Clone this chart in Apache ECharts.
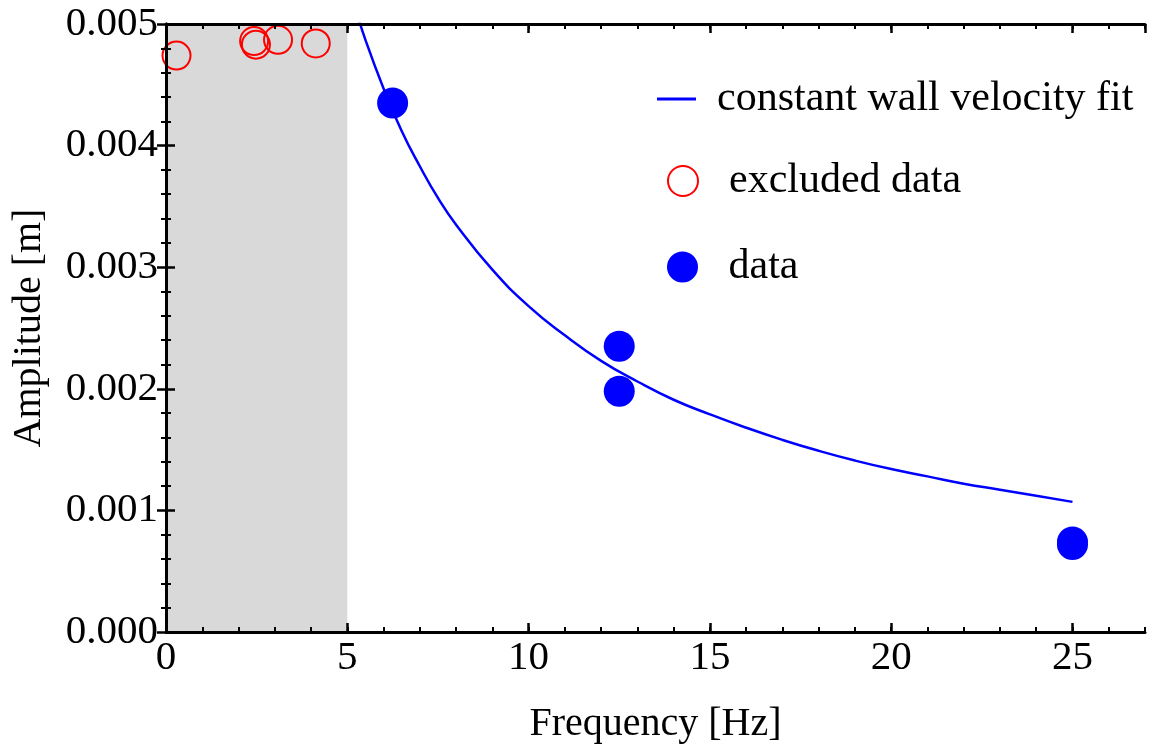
<!DOCTYPE html>
<html>
<head>
<meta charset="utf-8">
<script src="https://cdn.jsdelivr.net/npm/echarts@6/dist/echarts.min.js"></script>
<style>
  html, body { margin: 0; padding: 0; background: #fff; }
  #main { width: 1150px; height: 755px; }
</style>
</head>
<body>
<div id="main"></div>
<script>
// values
const dataFreq = [6.25, 12.5, 12.5, 25.0, 25.0];
const dataAmp = [0.00435, 0.00235, 0.00198, 0.00074, 0.00072];

const excludedFreq = [0.29, 2.43, 2.48, 3.09, 4.13];
const excludedAmp = [0.00474, 0.00486, 0.00483, 0.00487, 0.00484];

const fitFreq = [5.2, 5.5, 6, 6.5, 7, 7.5, 8, 9, 10, 11, 12, 13, 14, 15, 16, 17, 18, 19, 20, 21, 22, 23, 24, 25];
const fitAmp = [0.00515, 0.00487, 0.00447, 0.00412, 0.00383, 0.00357, 0.00335, 0.00298, 0.00268, 0.00244,
  0.00223, 0.00206, 0.00191, 0.00179, 0.00168, 0.00158, 0.00149, 0.00141, 0.00134, 0.00128,
  0.00122, 0.00117, 0.00112, 0.00107];

const excludedRange = [0, 5];

const font = 'Liberation Serif';
const pair = (xs, ys) => xs.map((x, i) => [x, ys[i]]);

const chart = echarts.init(document.getElementById('main'));

const lineStyle = { color: '#000', width: 3 };

// bottom/top axes: one carries major ticks + labels, the other the unit ticks
const xBase = { type: 'value', min: 0, max: 27, gridIndex: 0, z: 10, splitLine: { show: false } };
const yBase = { type: 'value', min: 0, max: 0.005, interval: 0.001, z: 10, splitLine: { show: false } };

chart.setOption({
  backgroundColor: '#fff',
  animation: false,
  grid: { left: 166, right: 5, top: 24, bottom: 123 },
  legend: [{
    left: 652, top: 73,
    selectedMode: false,
    icon: 'rect', itemWidth: 39, itemHeight: 3,
    textStyle: { fontFamily: font, fontSize: 42, lineHeight: 42, color: '#000', padding: [0, 0, 0, 16] },
    data: ['constant wall velocity fit']
  }, {
    left: 662, top: 155,
    selectedMode: false,
    icon: 'circle', itemWidth: 82, itemHeight: 30,
    textStyle: { fontFamily: font, fontSize: 42, lineHeight: 42, color: '#000' },
    data: ['excluded data']
  }, {
    left: 662, top: 241,
    selectedMode: false,
    icon: 'circle', itemWidth: 82, itemHeight: 31,
    textStyle: { fontFamily: font, fontSize: 42, lineHeight: 42, color: '#000' },
    data: ['data']
  }],
  xAxis: [
    Object.assign({}, xBase, {
      position: 'bottom', interval: 5,
      axisLine: { lineStyle: lineStyle },
      axisTick: { inside: true, length: 9, lineStyle: { color: '#000', width: 2.5 } },
      axisLabel: { margin: 6, showMaxLabel: false, fontFamily: font, fontSize: 41, color: '#000' },
      name: 'Frequency [Hz]', nameLocation: 'middle', nameGap: 72,
      nameTextStyle: { fontFamily: font, fontSize: 40, color: '#000' }
    }),
    Object.assign({}, xBase, {
      position: 'bottom', interval: 1,
      axisLine: { show: false },
      axisTick: { inside: true, length: 5, lineStyle: { color: '#000', width: 2 } },
      axisLabel: { show: false }
    }),
    Object.assign({}, xBase, {
      position: 'top', interval: 5,
      axisLine: { lineStyle: lineStyle },
      axisTick: { inside: true, length: 9, lineStyle: { color: '#000', width: 2.5 } },
      axisLabel: { show: false }
    }),
    Object.assign({}, xBase, {
      position: 'top', interval: 1,
      axisLine: { show: false },
      axisTick: { inside: true, length: 5, lineStyle: { color: '#000', width: 2 } },
      axisLabel: { show: false }
    })
  ],
  yAxis: [
    Object.assign({}, yBase, {
      position: 'left',
      axisLine: { lineStyle: lineStyle },
      axisTick: { inside: true, length: 9, lineStyle: { color: '#000', width: 2.5 } },
      minorTick: { show: true, splitNumber: 5, length: 5, lineStyle: { color: '#000', width: 2 } },
      axisLabel: {
        margin: 8, fontFamily: font, fontSize: 41, color: '#000',
        formatter: v => v.toFixed(3)
      },
      name: 'Amplitude [m]', nameLocation: 'middle', nameGap: 117,
      nameTextStyle: { fontFamily: font, fontSize: 40, color: '#000' }
    }),
    Object.assign({}, yBase, {
      position: 'right',
      axisLine: { lineStyle: lineStyle },
      axisTick: { inside: true, length: 9, lineStyle: { color: '#000', width: 2.5 } },
      minorTick: { show: true, splitNumber: 5, length: 5, lineStyle: { color: '#000', width: 2 } },
      axisLabel: { show: false }
    })
  ],
  series: [{
    name: 'constant wall velocity fit',
    type: 'line',
    z: 1,
    smooth: true,
    symbol: 'none',
    clip: true,
    lineStyle: { color: '#0000ff', width: 2.5 },
    itemStyle: { color: '#0000ff' },
    data: pair(fitFreq, fitAmp),
    markArea: {
      silent: true,
      itemStyle: { color: '#d9d9d9' },
      data: [[{ xAxis: excludedRange[0], yAxis: 0 }, { xAxis: excludedRange[1], yAxis: 0.005 }]]
    }
  }, {
    name: 'excluded data',
    type: 'scatter',
    z: 3,
    symbol: 'circle',
    symbolSize: 28,
    itemStyle: { color: 'rgba(255,255,255,0)', borderColor: '#ff0000', borderWidth: 2, opacity: 1 },
    data: pair(excludedFreq, excludedAmp)
  }, {
    name: 'data',
    type: 'scatter',
    z: 3,
    symbol: 'circle',
    symbolSize: 31,
    itemStyle: { color: '#0000ff', opacity: 1 },
    data: pair(dataFreq, dataAmp)
  }]
});
</script>
</body>
</html>
